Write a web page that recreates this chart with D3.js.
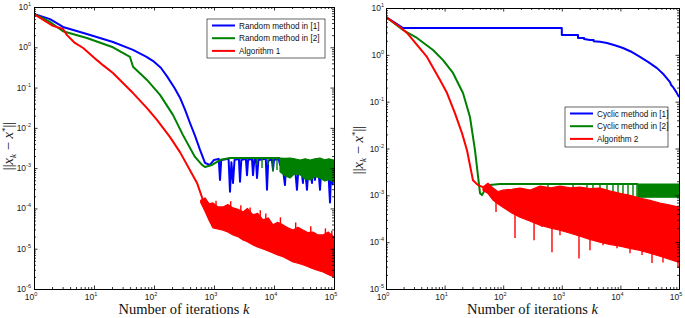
<!DOCTYPE html>
<html>
<head>
<meta charset="utf-8">
<script src="https://cdn.jsdelivr.net/npm/d3@7"></script>
<style>
  body { margin: 0; background: #fff; }
  svg { display: block; }
  .tick-label { font-family: "Liberation Sans", Arial, sans-serif; font-size: 8.5px; fill: #222; }
  .axis-title { font-family: "Liberation Serif", "DejaVu Serif", serif; font-size: 14.5px; fill: #111; }
  .legend text { font-family: "Liberation Sans", Arial, sans-serif; font-size: 8.2px; fill: #111; }
</style>
</head>
<body>
<svg id="chart" width="685" height="318"></svg>
<script>
// ---- data: [k, ||x_k - x*||] ----
const xExponents = [0, 1, 2, 3, 4, 5];
const leftYExponents = [1, 0, -1, -2, -3, -4, -5, -6];
const rightYExponents = [1, 0, -1, -2, -3, -4, -5];

const leftLegend = ["Random method in [1]", "Random method in [2]", "Algorithm 1"];
const rightLegend = ["Cyclic method in [1]", "Cyclic method in [2]", "Algorithm 2"];
const seriesColors = ["#0000ff", "#008000", "#ff0000"];

// left panel
const randomBlue = [
  [1, 6.7], [1.85, 5.0], [3.04, 3.2], [7.6, 2.14], [20.7, 1.35], [44.7, 0.86], [75, 0.58], [100, 0.44],
  [130, 0.31], [165, 0.19], [220, 0.098], [271, 0.056], [330, 0.028], [398, 0.0132], [480, 0.0065],
  [585, 0.00283], [708, 0.00135], [855, 0.0012],
  [1000, 1.6e-3], [1200, 1.7e-3], [1259, 5.1e-4], [1320, 1.6e-3], [1750, 1.7e-3], [1848, 2.6e-4],
  [1950, 1.4e-3], [2074, 4.3e-4], [2200, 1.6e-3], [2600, 1.7e-3], [2712, 4.6e-4], [2850, 1.6e-3],
  [3400, 1.7e-3], [3548, 6.7e-4], [3700, 1.6e-3], [4300, 1.7e-3], [4467, 6.7e-4], [4700, 1.6e-3],
  [5000, 1.7e-3], [5210, 5.7e-4], [5500, 1.6e-3], [7300, 1.7e-3], [7640, 2.9e-4], [8000, 1.5e-3],
  [9200, 1.7e-3], [9620, 9.1e-4], [10000, 1.6e-3], [12000, 1.7e-3], [12590, 1.2e-3], [13500, 1.6e-3],
  [15240, 3.8e-4], [16000, 1.5e-3], [17500, 1.6e-3], [18480, 6.7e-4], [20000, 1.5e-3], [22000, 1.4e-3],
  [24150, 2.9e-4], [26000, 1.4e-3], [28000, 1.2e-3], [30410, 4.3e-4], [32000, 1.5e-3], [35480, 2.9e-4],
  [38000, 1.3e-3], [40000, 1.0e-3], [42960, 4.3e-4], [45000, 1.5e-3], [48200, 5.1e-4], [52000, 1.4e-3],
  [55000, 9e-4], [58480, 2.9e-4], [62000, 1.3e-3], [66000, 1.5e-3], [70800, 5.1e-4], [75000, 1.4e-3],
  [80000, 1.0e-3], [85800, 1.4e-4], [90000, 1.2e-3], [95000, 4e-4], [100000, 1.2e-3]
];
const randomGreen = [
  [1, 6.7], [1.85, 4.25], [3.04, 2.5], [7.6, 1.7], [20.7, 1.0], [39.8, 0.575], [44.7, 0.33],
  [76.4, 0.155], [126, 0.066], [207, 0.021], [304, 0.0066], [482, 0.0019], [631, 0.0012],
  [708, 0.00107], [926, 0.0012], [1259, 0.00159], [1848, 1.78e-3], [12590, 1.78e-3]
];
const randomGreenDips = [ // [k, low, top]
  [5210, 1.2e-3, 1.78e-3], [6310, 1.01e-3, 1.78e-3], [7940, 1.2e-3, 1.78e-3],
  [9620, 8.1e-4, 1.78e-3], [11220, 9e-4, 1.78e-3]
];
const randomGreenBand = [ // [k, low, high]
  [12590, 8.1e-4, 1.78e-3], [15240, 6.5e-4, 1.75e-3], [18480, 5.7e-4, 1.78e-3], [22000, 7.2e-4, 1.7e-3],
  [27400, 6.8e-4, 1.59e-3], [33000, 5.4e-4, 1.7e-3], [40200, 5.1e-4, 1.59e-3], [48000, 6.2e-4, 1.7e-3],
  [58480, 5.7e-4, 1.78e-3], [70000, 4.8e-4, 1.6e-3], [82000, 5.2e-4, 1.7e-3], [100000, 4.5e-4, 1.59e-3]
];
const algo1Red = [
  [1, 6.7], [2.07, 3.4], [3.04, 2.85], [3.55, 2.0], [4.8, 1.28], [6.6, 0.96], [11.2, 0.48],
  [14.1, 0.36], [20.7, 0.23], [32.8, 0.116], [44.7, 0.073], [76.4, 0.031], [112, 0.0157],
  [185, 0.0059], [271, 0.0025], [521, 4.3e-4], [656, 1.6e-4], [794, 7.7e-5], [962, 3.5e-5]
];
const algo1Band = [ // [k, low, high]
  [600, 1.4e-4, 1.6e-4], [708, 8.5e-5, 1.82e-4], [830, 5e-5, 1.3e-4], [962, 3.3e-5, 1.37e-4],
  [1150, 3.1e-5, 1.1e-4], [1413, 2.9e-5, 1.09e-4], [1700, 2.6e-5, 1.25e-4], [2074, 2.2e-5, 1.03e-4],
  [2500, 2.0e-5, 9.5e-5], [3041, 1.65e-5, 8.2e-5], [3600, 1.5e-5, 1.0e-4], [4467, 1.24e-5, 6.9e-5],
  [5300, 1.1e-5, 7.6e-5], [6561, 9.9e-6, 5.2e-5], [8000, 8.8e-6, 5.8e-5], [9620, 7.9e-6, 3.9e-5],
  [11500, 7.0e-6, 4.5e-5], [14125, 6.3e-6, 3.9e-5], [17000, 5.5e-6, 3.3e-5], [20740, 4.7e-6, 2.9e-5],
  [25000, 4.4e-6, 3.4e-5], [30410, 4.0e-6, 2.9e-5], [37000, 3.6e-6, 2.5e-5], [44670, 3.2e-6, 2.6e-5],
  [54000, 2.9e-6, 2.2e-5], [65610, 2.65e-6, 2.2e-5], [80000, 2.3e-6, 2.6e-5], [100000, 2.0e-6, 1.96e-5]
];
const algo1Spikes = [ // [k, low, top] upward spikes above the band
  [1080, 8e-5, 1.55e-4], [1900, 7e-5, 1.5e-4], [2800, 6e-5, 1.2e-4], [4000, 5e-5, 1.05e-4],
  [5900, 4e-5, 9e-5], [7300, 3.5e-5, 7.5e-5], [12800, 3e-5, 6e-5], [23000, 2e-5, 4.5e-5],
  [41000, 1.6e-5, 3.6e-5], [72000, 1.4e-5, 3.2e-5], [92000, 1.2e-5, 2.8e-5]
];

// right panel
const cyclicBlue = [
  [1, 6.4], [1.43, 4.8], [1.95, 3.74], [1000, 3.74], [1000, 2.65], [1890, 2.65], [1890, 2.29],
  [2400, 2.29], [2400, 2.18], [3020, 2.07], [3500, 2.07], [3500, 1.95], [4500, 1.9], [5890, 1.79],
  [8000, 1.6], [11070, 1.40], [15000, 1.18], [21600, 0.90], [30000, 0.70], [42150, 0.52],
  [55000, 0.38], [70200, 0.26], [73000, 0.23], [79000, 0.205], [90000, 0.16], [100000, 0.125]
];
const cyclicGreen = [
  [1, 6.4], [1.95, 3.39], [3.38, 2.29], [6.34, 1.27], [9.4, 0.77], [13.9, 0.41], [20.6, 0.153],
  [27.1, 0.047], [33.0, 0.0092], [40.2, 1.11e-3], [43.5, 1.01e-3], [50, 1.4e-3], [59.5, 1.66e-3],
  [88, 1.74e-3], [19950, 1.74e-3]
];
const cyclicGreenDips = [ // [k, low, top]
  [582, 9.1e-4, 1.74e-3], [1553, 9.1e-4, 1.74e-3], [2692, 9.1e-4, 1.74e-3], [3406, 9.1e-4, 1.74e-3],
  [4487, 9.1e-4, 1.74e-3], [5908, 9.1e-4, 1.74e-3], [7474, 9.1e-4, 1.74e-3], [9100, 9.1e-4, 1.74e-3],
  [11070, 9.1e-4, 1.74e-3], [13480, 9.1e-4, 1.74e-3], [16400, 9.1e-4, 1.74e-3], [19190, 9.1e-4, 1.74e-3]
];
const cyclicGreenBand = [[19950, 9.1e-4, 1.74e-3], [100000, 9.1e-4, 1.74e-3]];
const algo2Red = [
  [1, 6.4], [1.73, 3.93], [2.28, 2.93], [5.0, 0.90], [8.35, 0.29], [11.0, 0.153], [15.0, 0.057],
  [19.8, 0.0213], [24.1, 0.0092], [30.5, 2.1e-3], [37.2, 1.65e-3], [45.2, 1.5e-3]
];
const algo2Band = [ // [k, low, high]
  [45.2, 1.29e-3, 1.5e-3], [55, 1.1e-3, 1.82e-3], [67, 7.9e-4, 1.43e-3], [82, 6.5e-4, 1.2e-3],
  [99, 5.6e-4, 1.29e-3], [140, 4.2e-4, 1.35e-3], [194, 3.4e-4, 1.43e-3], [290, 2.8e-4, 1.3e-3],
  [425, 2.3e-4, 1.57e-3], [650, 2.0e-4, 1.45e-3], [931, 1.8e-4, 1.57e-3], [1400, 1.55e-4, 1.45e-3],
  [2046, 1.34e-4, 1.5e-3], [3000, 1.15e-4, 1.4e-3], [4487, 1.0e-4, 1.43e-3], [6500, 9e-5, 1.25e-3],
  [9840, 8.2e-5, 1.11e-3], [14500, 7.4e-5, 1.0e-3], [21600, 6.7e-5, 8.7e-4], [32000, 5.8e-5, 7.8e-4],
  [47400, 5.0e-5, 6.8e-4], [70000, 4.3e-5, 6.2e-4], [100000, 3.7e-5, 5.6e-4]
];
const algo2Spikes = [ // [k, low, top]
  [75.4, 4.4e-4, 8e-4], [159, 1.22e-4, 4.2e-4], [336, 1.1e-4, 3e-4], [459, 2.1e-4, 2.6e-4],
  [680, 6.1e-5, 2.2e-4], [931, 1.41e-4, 2e-4], [1966, 4.5e-5, 1.5e-4], [3027, 6.7e-5, 1.3e-4],
  [5050, 8.6e-5, 1.1e-4], [8750, 7.4e-5, 9e-5], [14590, 5.8e-5, 8e-5], [23400, 5.3e-5, 7e-5],
  [34600, 3.6e-5, 6.2e-5], [53300, 3.7e-5, 5.2e-5], [96200, 2.8e-5, 4.2e-5]
];

const svg = d3.select("#chart");

function drawPanel(p) {
  const g = svg.append("g");
  const clipId = "clip-" + p.id;
  const frameClip = "frame-" + p.id;
  svg.append("clipPath").attr("id", clipId)
    .append("rect").attr("x", p.x0).attr("y", p.y0).attr("width", p.x1 - p.x0).attr("height", p.y1 - p.y0);
  svg.append("clipPath").attr("id", frameClip)
    .append("rect").attr("x", p.clipLeft).attr("y", 0).attr("width", p.clipRight - p.clipLeft).attr("height", 318);
  g.attr("clip-path", `url(#${frameClip})`);

  const x = d3.scaleLog().domain([1, 1e5]).range([p.x0, p.x1]);
  const y = d3.scaleLog().domain([Math.pow(10, d3.min(p.yExp)), Math.pow(10, d3.max(p.yExp))]).range([p.y1, p.y0]);

  const plot = g.append("g").attr("clip-path", `url(#${clipId})`);
  const line = d3.line().x(d => x(d[0])).y(d => y(d[1]));
  const area = d3.area().x(d => x(d[0])).y0(d => y(d[1])).y1(d => y(d[2]));

  p.series.forEach(s => {
    if (s.band) {
      plot.append("path").datum(s.band).attr("d", area)
        .attr("fill", s.color).attr("stroke", s.color).attr("stroke-width", 1.2).attr("stroke-linejoin", "round");
    }
    if (s.line) {
      plot.append("path").datum(s.line).attr("d", line)
        .attr("fill", "none").attr("stroke", s.color).attr("stroke-width", 2).attr("stroke-linejoin", "round");
    }
    if (s.dips) {
      plot.selectAll(null).data(s.dips).join("line")
        .attr("x1", d => x(d[0])).attr("x2", d => x(d[0]))
        .attr("y1", d => y(d[2])).attr("y2", d => y(d[1]))
        .attr("stroke", s.color).attr("stroke-width", 1.4);
    }
  });

  // log ticks: decades + minor 2..9
  const xMinor = [];
  xExponents.slice(0, -1).forEach(e => { for (let m = 2; m < 10; m++) xMinor.push(m * Math.pow(10, e)); });
  const yMinor = [];
  p.yExp.slice(1).forEach(e => { for (let m = 2; m < 10; m++) yMinor.push(m * Math.pow(10, e)); });
  const xMajor = xExponents.map(e => Math.pow(10, e));
  const yMajor = p.yExp.map(e => Math.pow(10, e));

  const axes = [
    [d3.axisBottom(x), p.y1, "x"], [d3.axisTop(x), p.y0, "x"],
    [d3.axisLeft(y), p.x0, "y"], [d3.axisRight(y), p.x1, "y"]
  ];
  axes.forEach(([ax, pos, dir]) => {
    const tr = dir === "x" ? `translate(0,${pos})` : `translate(${pos},0)`;
    [[dir === "x" ? xMajor : yMajor, -3.5], [dir === "x" ? xMinor : yMinor, -2]].forEach(([vals, size]) => {
      const a = g.append("g").attr("transform", tr)
        .call(ax.tickValues(vals).tickSize(size).tickSizeOuter(0).tickFormat(""));
      a.selectAll("line").attr("stroke", "#000").attr("stroke-width", 0.8);
      a.select(".domain").attr("stroke", "#000").attr("stroke-width", 1);
    });
  });

  // tick labels as 10^e
  xExponents.forEach(e => {
    const t = g.append("text").attr("class", "tick-label")
      .attr("x", x(Math.pow(10, e)) - 3).attr("y", p.y1 + 11).attr("text-anchor", "middle");
    t.append("tspan").text("10");
    t.append("tspan").attr("dy", -4).attr("font-size", "5.5px").text(e);
  });
  p.yExp.forEach(e => {
    const t = g.append("text").attr("class", "tick-label")
      .attr("x", p.x0 - p.yLabelGap).attr("y", y(Math.pow(10, e)) + 3).attr("text-anchor", "end");
    t.append("tspan").text("10");
    t.append("tspan").attr("dy", -4).attr("font-size", "5.5px").text(e);
  });

  // axis titles
  const xt = g.append("text").attr("class", "axis-title")
    .attr("x", (p.x0 + p.x1) / 2).attr("y", 314).attr("text-anchor", "middle");
  xt.append("tspan").text("Number of iterations ");
  xt.append("tspan").attr("font-style", "italic").text("k");

  const yt = g.append("text").attr("class", "axis-title")
    .attr("transform", `translate(${p.yTitleX},${p.yTitleY}) rotate(-90)`)
    .attr("text-anchor", "middle").attr("font-size", "14px");
  yt.append("tspan").text("||");
  yt.append("tspan").attr("font-style", "italic").text("x");
  yt.append("tspan").attr("font-style", "italic").attr("font-size", "9px").attr("dy", 3).text("k");
  yt.append("tspan").attr("dy", -3).text(" − ");
  yt.append("tspan").attr("font-style", "italic").text("x");
  yt.append("tspan").attr("font-size", "9px").attr("dy", -5).text("*");
  yt.append("tspan").attr("dy", 5).text("||");

  // legend
  const lg = g.append("g").attr("class", "legend");
  lg.append("rect").attr("x", p.legend.x).attr("y", p.legend.y)
    .attr("width", p.legend.w).attr("height", p.legend.h)
    .attr("fill", "#fff").attr("stroke", "#000").attr("stroke-width", 0.6);
  p.legend.labels.forEach((lab, i) => {
    const ly = p.legend.y + 6.5 + i * 12.7;
    lg.append("line").attr("x1", p.legend.x + 5).attr("x2", p.legend.x + 28)
      .attr("y1", ly).attr("y2", ly).attr("stroke", seriesColors[i]).attr("stroke-width", 2);
    lg.append("text").attr("x", p.legend.x + 32).attr("y", ly + 3).text(lab);
  });
}

drawPanel({
  id: "left", x0: 34, x1: 334, y0: 7, y1: 289, yExp: leftYExponents,
  clipLeft: 0, clipRight: 340, yTitleX: 13, yTitleY: 146, yLabelGap: 3,
  legend: { x: 207, y: 19, w: 118, h: 39, labels: leftLegend },
  series: [
    { color: seriesColors[0], line: randomBlue },
    { color: seriesColors[1], line: randomGreen, band: randomGreenBand, dips: randomGreenDips },
    { color: seriesColors[2], line: algo1Red, band: algo1Band, dips: algo1Spikes }
  ]
});

drawPanel({
  id: "right", x0: 386, x1: 679, y0: 8, y1: 289, yExp: rightYExponents,
  clipLeft: 340, clipRight: 685, yTitleX: 363, yTitleY: 150, yLabelGap: 2,
  legend: { x: 565, y: 107, w: 103, h: 40, labels: rightLegend },
  series: [
    { color: seriesColors[0], line: cyclicBlue },
    { color: seriesColors[1], line: cyclicGreen, band: cyclicGreenBand, dips: cyclicGreenDips },
    { color: seriesColors[2], line: algo2Red, band: algo2Band, dips: algo2Spikes }
  ]
});
</script>
</body>
</html>
